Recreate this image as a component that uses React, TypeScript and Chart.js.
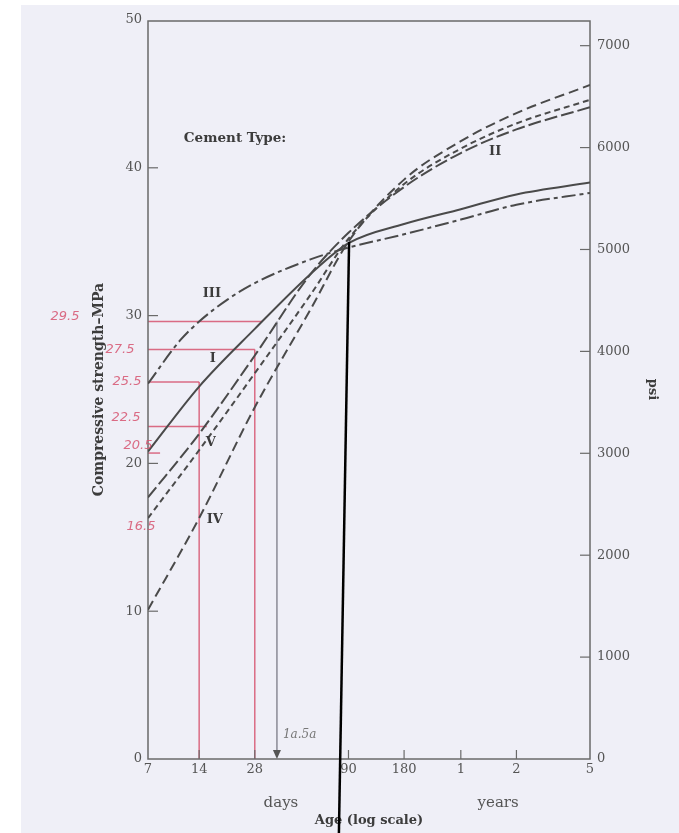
import React, { useEffect, useRef } from "react";
import { Chart, registerables } from "chart.js";

Chart.register(...registerables);

// ---------- data ----------
// Age in days; the scan's log axis starts a little above 7 d (labelled "7")
const AGE_DAYS = [7.4, 14, 28, 56, 90, 180, 365, 730, 1826];
const TYPE_I = [20.8, 25.2, 29.1, 32.8, 34.9, 36.2, 37.2, 38.2, 39.0];
const TYPE_II = [17.7, 22.0, 27.3, 32.8, 35.6, 38.7, 41.0, 42.6, 44.1];
const TYPE_IV = [10.1, 16.3, 23.8, 30.4, 35.0, 39.2, 41.8, 43.7, 45.6];
const TYPE_V = [16.3, 20.9, 26.1, 31.4, 35.2, 38.9, 41.3, 43.0, 44.6];
// Type III bends early, so it is read at a few more ages
const TYPE_III_AGE_DAYS = [7.4, 11, 14, 20, 28, 56, 90, 180, 365, 730, 1826];
const TYPE_III = [25.4, 28.3, 29.6, 31.1, 32.2, 33.8, 34.6, 35.5, 36.5, 37.5, 38.3];

const X_TICK_DAYS = [7.4, 14, 28, 90, 180, 365, 730, 1826];
const X_TICK_LABELS = ["7", "14", "28", "90", "180", "1", "2", "5"];
const MPA_TICKS = [0, 10, 20, 30, 40, 50];
const PSI_TICKS = [0, 1000, 2000, 3000, 4000, 5000, 6000, 7000];
const MPA_MAX = 50;
const PSI_PER_MPA = 145.038;

// curve labels: [text, age (days), strength (MPa)]
const CURVE_LABELS: [string, number, number][] = [
  ["III", 16.4, 31.5],
  ["I", 16.6, 27.1],
  ["V", 16.2, 21.4],
  ["IV", 17.0, 16.2],
  ["II", 560, 41.1],
];
const LEGEND_TITLE: [string, number, number] = ["Cement Type:", 21.9, 42.0];

// handwritten red read-offs
const RED_LEVELS = [29.6, 27.7, 25.5, 22.5, 20.7];
const RED_LEVEL_END_DAYS = [30.6, 28, 14, 15.4, 8.6];
const RED_DROP_DAYS = [14, 28];
const RED_DROP_TOPS = [25.5, 27.7];
const RED_NOTES = ["29.5", "27.5", "25.5", "22.5", "20.5", "16.5"];
const RED_NOTE_LEVELS = [29.9, 27.7, 25.5, 23.1, 21.2, 15.7];
const RED_NOTE_DX = [-83, -28, -21, -22, -10, -7];

// grey pencil drop line and black pen line
const GREY_DROP_DAY = 36.9;
const GREY_DROP_TOP = 29.6;
const GREY_NOTE: [string, number, number] = ["1a.5a", 49, 1.6];
const BLACK_LINE_DAYS = [90.7, 79.9];
const BLACK_LINE_MPA = [35.0, -5.0];

const INK = "#4a4a4a";
const TEXT = "#555555";
const RED = "rgba(214, 84, 112, 0.85)";

const annotations = {
  id: "annotations",
  beforeDraw(chart: any) {
    const { ctx, width, height } = chart;
    ctx.save();
    ctx.fillStyle = "#ffffff";
    ctx.fillRect(0, 0, width, height);
    ctx.fillStyle = "#efeff7";
    ctx.fillRect(21, 5, width - 21, height - 5);
    ctx.restore();
  },
  beforeDatasetsDraw(chart: any) {
    const { ctx, chartArea } = chart;
    const xs = chart.scales.x;
    const ys = chart.scales.y;
    const y2 = chart.scales.y2;
    ctx.save();
    // red read-off lines
    ctx.strokeStyle = RED;
    ctx.lineWidth = 1.5;
    RED_LEVELS.forEach((v, i) => {
      const py = ys.getPixelForValue(v);
      ctx.beginPath();
      ctx.moveTo(chartArea.left, py);
      ctx.lineTo(xs.getPixelForValue(RED_LEVEL_END_DAYS[i]), py);
      ctx.stroke();
    });
    RED_DROP_DAYS.forEach((d, i) => {
      const px = xs.getPixelForValue(d);
      ctx.beginPath();
      ctx.moveTo(px, ys.getPixelForValue(RED_DROP_TOPS[i]));
      ctx.lineTo(px, chartArea.bottom);
      ctx.stroke();
    });
    // grey pencil drop with arrow
    const gx = xs.getPixelForValue(GREY_DROP_DAY);
    ctx.strokeStyle = "rgba(120,120,130,0.85)";
    ctx.lineWidth = 1.5;
    ctx.beginPath();
    ctx.moveTo(gx, ys.getPixelForValue(GREY_DROP_TOP));
    ctx.lineTo(gx, chartArea.bottom - 4);
    ctx.stroke();
    ctx.fillStyle = "#555";
    ctx.beginPath();
    ctx.moveTo(gx - 4, chartArea.bottom - 9);
    ctx.lineTo(gx + 4, chartArea.bottom - 9);
    ctx.lineTo(gx, chartArea.bottom);
    ctx.closePath();
    ctx.fill();
    ctx.font = "italic 12px 'DejaVu Serif'";
    ctx.fillStyle = "#777";
    ctx.textAlign = "center";
    ctx.textBaseline = "middle";
    ctx.fillText(GREY_NOTE[0], xs.getPixelForValue(GREY_NOTE[1]), ys.getPixelForValue(GREY_NOTE[2]));

    // frame
    ctx.strokeStyle = "#6a6a6a";
    ctx.lineWidth = 1.5;
    ctx.strokeRect(chartArea.left, chartArea.top + 1, chartArea.right - chartArea.left, chartArea.bottom - chartArea.top - 1);
    // inward tick marks
    ctx.lineWidth = 1.2;
    MPA_TICKS.slice(1, -1).forEach((v) => {
      const py = ys.getPixelForValue(v);
      ctx.beginPath();
      ctx.moveTo(chartArea.left, py);
      ctx.lineTo(chartArea.left + 10, py);
      ctx.stroke();
    });
    PSI_TICKS.slice(1).forEach((v) => {
      const py = y2.getPixelForValue(v);
      ctx.beginPath();
      ctx.moveTo(chartArea.right - 10, py);
      ctx.lineTo(chartArea.right, py);
      ctx.stroke();
    });
    X_TICK_DAYS.slice(1, -1).forEach((d) => {
      const px = xs.getPixelForValue(d);
      ctx.beginPath();
      ctx.moveTo(px, chartArea.bottom);
      ctx.lineTo(px, chartArea.bottom - 9);
      ctx.stroke();
    });
    ctx.restore();
  },
  afterDraw(chart: any) {
    const { ctx, chartArea } = chart;
    const xs = chart.scales.x;
    const ys = chart.scales.y;
    ctx.save();
    ctx.textAlign = "center";
    ctx.textBaseline = "middle";
    // curve labels
    ctx.fillStyle = "#3c3c3c";
    ctx.font = "bold 13px 'DejaVu Serif'";
    CURVE_LABELS.forEach(([t, d, v]) => {
      ctx.fillText(t, xs.getPixelForValue(d), ys.getPixelForValue(v));
    });
    ctx.font = "bold 13.5px 'DejaVu Serif'";
    ctx.fillText(LEGEND_TITLE[0], xs.getPixelForValue(LEGEND_TITLE[1]), ys.getPixelForValue(LEGEND_TITLE[2]));
    // days / years sub-labels
    ctx.fillStyle = TEXT;
    ctx.font = "15px 'DejaVu Serif'";
    ctx.fillText("days", xs.getPixelForValue(38.8), chartArea.bottom + 44);
    ctx.fillText("years", xs.getPixelForValue(581), chartArea.bottom + 44);
    // red handwritten values
    ctx.fillStyle = RED;
    ctx.font = "italic 13px 'DejaVu Sans'";
    RED_NOTES.forEach((t, i) => {
      ctx.fillText(t, chartArea.left + RED_NOTE_DX[i], ys.getPixelForValue(RED_NOTE_LEVELS[i]));
    });
    // black pen line
    ctx.strokeStyle = "#000";
    ctx.lineWidth = 2.5;
    ctx.beginPath();
    ctx.moveTo(xs.getPixelForValue(BLACK_LINE_DAYS[0]), ys.getPixelForValue(BLACK_LINE_MPA[0]));
    ctx.lineTo(xs.getPixelForValue(BLACK_LINE_DAYS[1]), ys.getPixelForValue(BLACK_LINE_MPA[1]));
    ctx.stroke();
    ctx.restore();
  },
};

const series = (ages: number[], vals: number[]) => ages.map((d, i) => ({ x: d, y: vals[i] }));

export default function App() {
  const ref = useRef<HTMLCanvasElement | null>(null);
  useEffect(() => {
    if (!ref.current) return;
    const common = {
      borderColor: INK,
      borderWidth: 2,
      pointRadius: 0,
      fill: false,
      cubicInterpolationMode: "monotone" as const,
    };
    const chart = new Chart(ref.current, {
      type: "line",
      data: {
        datasets: [
          { label: "I", data: series(AGE_DAYS, TYPE_I), ...common, borderDash: [] },
          { label: "II", data: series(AGE_DAYS, TYPE_II), ...common, borderDash: [13, 4] },
          { label: "III", data: series(TYPE_III_AGE_DAYS, TYPE_III), ...common, borderDash: [14, 4, 4, 4] },
          { label: "IV", data: series(AGE_DAYS, TYPE_IV), ...common, borderDash: [10, 5] },
          { label: "V", data: series(AGE_DAYS, TYPE_V), ...common, borderDash: [6, 4] },
        ],
      },
      options: {
        animation: false,
        responsive: false,
        devicePixelRatio: 1,
        layout: { padding: { left: 91, right: 19, top: 20, bottom: 5 } },
        plugins: { legend: { display: false }, tooltip: { enabled: false } },
        scales: {
          x: {
            type: "logarithmic",
            min: AGE_DAYS[0],
            max: AGE_DAYS[AGE_DAYS.length - 1],
            afterBuildTicks: (s: any) => {
              s.ticks = X_TICK_DAYS.map((v) => ({ value: v }));
            },
            afterFit: (s: any) => {
              s.height = 69;
            },
            grid: { display: false, drawTicks: false },
            border: { display: false },
            ticks: {
              autoSkip: false,
              maxRotation: 0,
              padding: 3,
              color: TEXT,
              font: { family: "DejaVu Serif", size: 13 },
              callback: (_v: any, i: number) => X_TICK_LABELS[i],
            },
            title: {
              display: true,
              text: "Age (log scale)",
              color: "#3c3c3c",
              padding: 0,
              font: { family: "DejaVu Serif", size: 13, weight: "bold" },
            },
          },
          y: {
            type: "linear",
            position: "left",
            min: 0,
            max: MPA_MAX,
            afterBuildTicks: (s: any) => {
              s.ticks = MPA_TICKS.map((v) => ({ value: v }));
            },
            afterFit: (s: any) => {
              s.width = 57;
            },
            grid: { display: false, drawTicks: false },
            border: { display: false },
            ticks: {
              padding: 6,
              color: TEXT,
              font: { family: "DejaVu Serif", size: 13 },
              callback: (v: any) => String(v),
            },
            title: {
              display: true,
              text: "Compressive strength–MPa",
              color: "#3c3c3c",
              padding: 0,
              font: { family: "DejaVu Serif", size: 14, weight: "bold" },
            },
          },
          y2: {
            type: "linear",
            position: "right",
            min: 0,
            max: MPA_MAX * PSI_PER_MPA,
            afterBuildTicks: (s: any) => {
              s.ticks = PSI_TICKS.map((v) => ({ value: v }));
            },
            afterFit: (s: any) => {
              s.width = 70;
            },
            grid: { display: false, drawTicks: false },
            border: { display: false },
            ticks: {
              padding: 7,
              color: TEXT,
              font: { family: "DejaVu Serif", size: 13 },
              callback: (v: any) => String(v),
            },
            title: {
              display: true,
              text: "psi",
              color: "#3c3c3c",
              padding: 0,
              font: { family: "DejaVu Serif", size: 13, weight: "bold" },
            },
          },
        },
      },
      plugins: [annotations],
    });
    return () => chart.destroy();
  }, []);
  return (
    <div style={{ position: "absolute", left: 0, top: 0, width: 679, height: 833 }}>
      <canvas ref={ref} width={679} height={833} style={{ width: 679, height: 833, display: "block" }} />
    </div>
  );
}
